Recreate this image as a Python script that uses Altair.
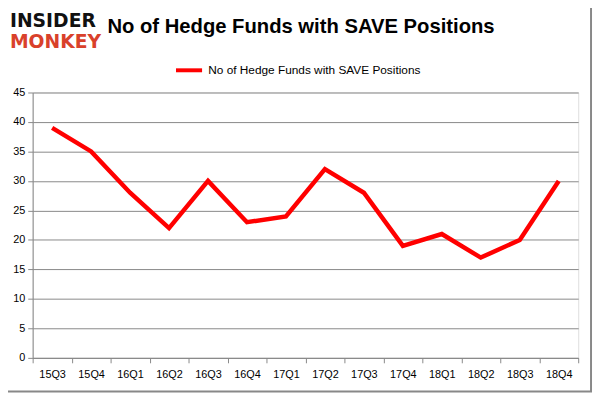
import altair as alt
import pandas as pd

quarters = ["15Q3", "15Q4", "16Q1", "16Q2", "16Q3", "16Q4", "17Q1",
            "17Q2", "17Q3", "17Q4", "18Q1", "18Q2", "18Q3", "18Q4"]
funds = [39, 35, 28, 22, 30, 23, 24, 32, 28, 19, 21, 17, 20, 30]
series_name = "No of Hedge Funds with SAVE Positions"
y_ticks = [0, 5, 10, 15, 20, 25, 30, 35, 40, 45]

df = pd.DataFrame({"quarter": quarters, "funds": funds, "series": series_name})

W, H = 553, 269
FONT = "Liberation Sans"

line = alt.Chart(df).mark_line(strokeWidth=4.5, color="#ff0000").encode(
    x=alt.X("quarter:N", sort=quarters,
            scale=alt.Scale(type="band", paddingInner=0, paddingOuter=0),
            axis=alt.Axis(title=None, labelAngle=0, tickBand="extent", grid=False,
                          domainColor="#888888", tickColor="#888888", tickSize=5,
                          labelFont=FONT, labelFontSize=11, labelColor="#000000",
                          labelPadding=6)),
    y=alt.Y("funds:Q", scale=alt.Scale(domain=[0, 45], nice=False),
            axis=alt.Axis(title=None, values=y_ticks, grid=True, gridColor="#888888",
                          domainColor="#888888", tickColor="#888888", tickSize=5,
                          labelFont=FONT, labelFontSize=11, labelColor="#000000",
                          labelPadding=3)),
    color=alt.Color("series:N",
                    scale=alt.Scale(domain=[series_name], range=["#ff0000"]),
                    legend=alt.Legend(title=None, orient="none", legendX=143, legendY=-38,
                                      symbolType="stroke", symbolStrokeWidth=4,
                                      symbolSize=700, labelFont=FONT, labelFontSize=12,
                                      labelColor="#000000", labelLimit=0)),
)

title = alt.Chart(pd.DataFrame({"t": ["No of Hedge Funds with SAVE Positions"]})).mark_text(
    font=FONT, fontSize=20.5, fontWeight="bold", color="#000000", align="center",
    baseline="middle").encode(text="t:N", x=alt.value(272), y=alt.value(-66))

logo1 = alt.Chart(pd.DataFrame({"t": ["INSIDER"]})).mark_text(
    font="DejaVu Sans", fontSize=19, fontWeight="bold", color="#111111", align="left",
    baseline="middle").encode(text="t:N", x=alt.value(-23), y=alt.value(-72))

logo2 = alt.Chart(pd.DataFrame({"t": ["MONKEY"]})).mark_text(
    font="DejaVu Sans", fontSize=19, fontWeight="bold", color="#d9412b", align="left",
    baseline="middle").encode(text="t:N", x=alt.value(-23), y=alt.value(-51))

border = alt.Chart(pd.DataFrame({"a": [0]})).mark_rect(
    fill=None, stroke="#888888", strokeWidth=2).encode(
    x=alt.value(-40), x2=alt.value(W + 13), y=alt.value(-100), y2=alt.value(H + 34))

chart = alt.layer(border, line, title, logo1, logo2).properties(
    width=W, height=H,
    autosize=alt.AutoSizeParams(type="none"),
    padding={"left": 25, "top": 83, "right": 15, "bottom": 36},
).configure_view(stroke=None).configure(background="#ffffff")

chart.save("out.html", embed_options={"renderer": "svg", "actions": False})
